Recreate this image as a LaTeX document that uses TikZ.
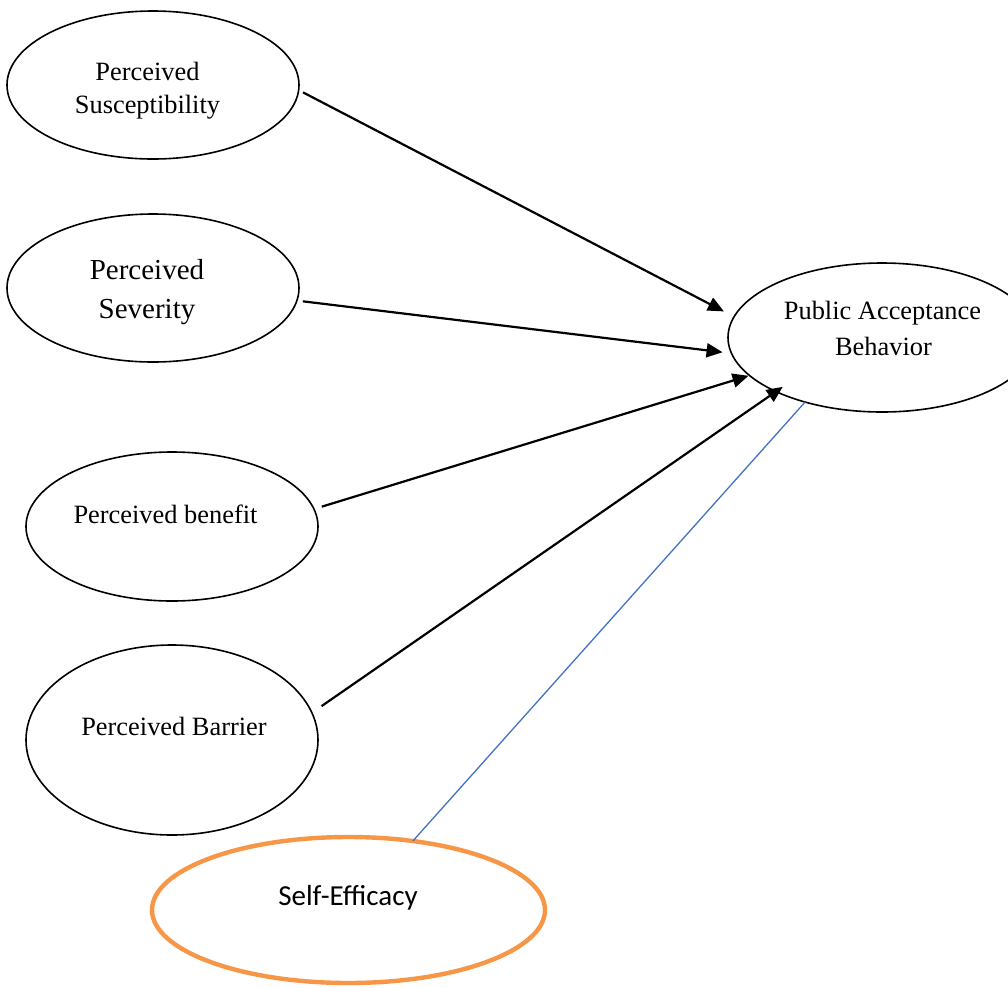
\documentclass[tikz,border=0pt]{standalone}
\usepackage{fontspec}
\setmainfont{Liberation Serif}
\newfontfamily\calibrifont{Carlito}
\usetikzlibrary{shapes.geometric,arrows.meta}
\definecolor{seorange}{HTML}{F79646}
\definecolor{linkblue}{HTML}{4472C4}
\begin{document}
\begin{tikzpicture}[x=0.5pt,y=-0.5pt,
  oval/.style={ellipse,draw=black,line width=0.8pt,inner sep=0pt,outer sep=0pt},
  lbl/.style={anchor=base,inner sep=0pt,font=\fontsize{13.2}{15}\selectfont},
  lblbig/.style={anchor=base,inner sep=0pt,font=\fontsize{14.5}{17}\selectfont},
  selbl/.style={anchor=base,inner sep=0pt,font=\calibrifont\fontsize{14.5}{17}\selectfont},
  arr/.style={-{Triangle[length=8pt,width=7pt]},line width=1.1pt,draw=black},
  link/.style={draw=linkblue,line width=0.65pt}
]
\useasboundingbox (0,0) rectangle (1008,987);
\clip (0,0) rectangle (1008,987);
\fill[white] (0,0) rectangle (1008,987);

% ellipses
\node[oval,minimum width=146pt,minimum height=74pt] (sus) at (153,85) {};
\node[oval,minimum width=146pt,minimum height=74pt] (sev) at (153,288) {};
\node[oval,minimum width=146pt,minimum height=74.5pt] (ben) at (172,526.5) {};
\node[oval,minimum width=146pt,minimum height=95pt] (bar) at (172,740) {};
\node[oval,minimum width=154pt,minimum height=74.5pt] (pab) at (882,337.5) {};
\node[ellipse,draw=seorange,line width=2.2pt,inner sep=0pt,outer sep=0pt,
      minimum width=196.5pt,minimum height=73pt] (se) at (348.5,910) {};

% labels
\node[lbl] (sus1) at (147.5,80) {Perceived};
\node[lbl] (sus2) at (147.5,113) {Susceptibility};
\node[lblbig] (sev1) at (147,279) {Perceived};
\node[lblbig] (sev2) at (147,318) {Severity};
\node[lbl] (ben1) at (165.5,523) {Perceived benefit};
\node[lbl] (bar1) at (174,735) {Perceived Barrier};
\node[lbl] (pab1) at (882.5,319) {Public Acceptance};
\node[lbl] (pab2) at (883.5,355) {Behavior};
\node[selbl] (se1) at (348,905) {Self-Efficacy};

% connectors
\draw[arr,shorten <=2.45pt,shorten >=5.75pt] (sus.358.2) -- (pab.172.7);
\draw[arr,shorten <=3pt,shorten >=4.5pt] (sev.355.1) -- (pab.186.3);
\draw[arr,shorten <=4.1pt,shorten >=0.5pt] (ben.7.7) -- (pab.196.7);
\draw[arr,shorten <=5.9pt,shorten >=-4.1pt] (bar.11.5) -- (pab.207.1);
\draw[link] (se.47.8) -- (pab.220.8);
\end{tikzpicture}
\end{document}
